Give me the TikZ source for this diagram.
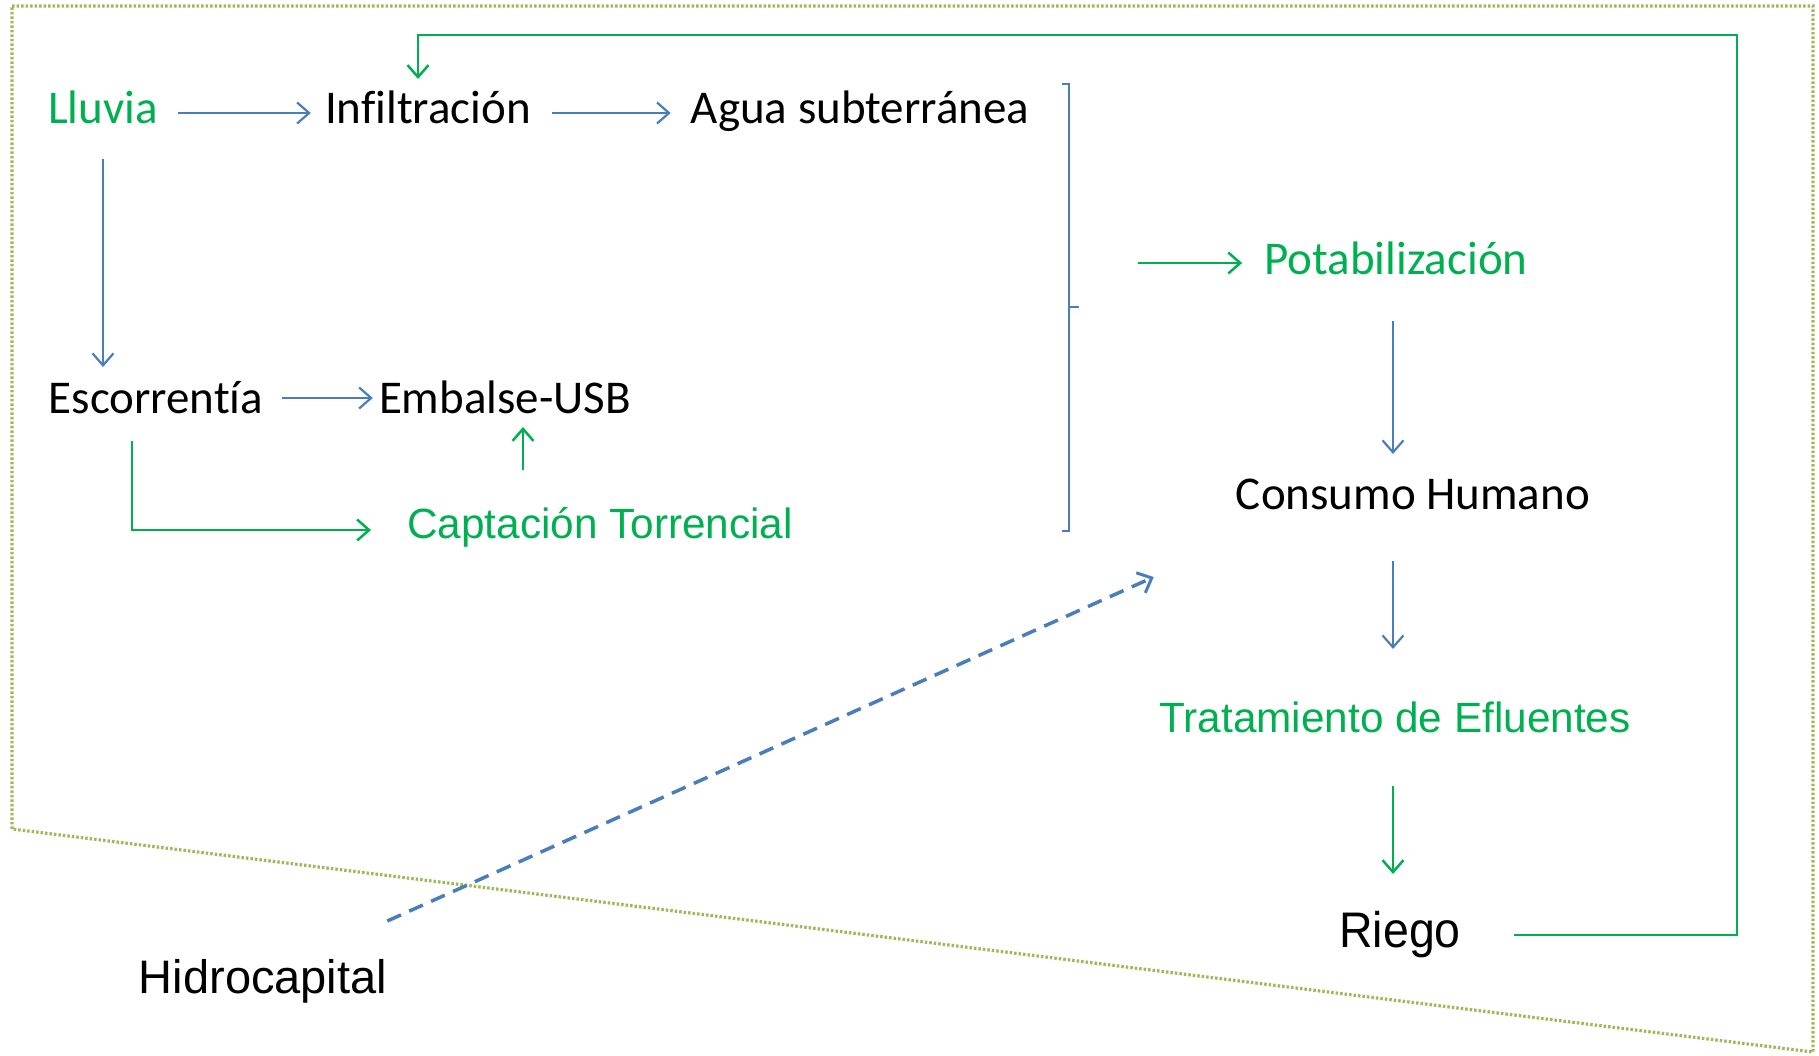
\documentclass[tikz,border=0pt]{standalone}
\usepackage{fontspec}
\setmainfont[Ligatures={NoCommon,NoContextual}]{Carlito}
\newfontfamily\arialf{Liberation Sans}
\newfontfamily\arialn[FakeStretch=0.93]{Liberation Sans}
\usetikzlibrary{arrows.meta,calc}
\definecolor{cgreen}{HTML}{00B050}
\definecolor{cblue}{HTML}{4A7EBB}
\definecolor{colive}{HTML}{9BBB59}
\begin{document}
\begin{tikzpicture}[x=1pt,y=-1pt,
  lbl/.style={anchor=base,inner sep=0pt,font=\fontsize{47}{56}\selectfont},
  arl/.style={anchor=base,inner sep=0pt,font=\arialf\fontsize{42.3}{50}\selectfont},
  barrow/.style={draw=cblue,line width=2.2pt,-{Straight Barb[length=12pt,width=21pt,line width=2.2pt]}},
  garrow/.style={draw=cgreen,line width=2.5pt,-{Straight Barb[length=12pt,width=21pt,line width=2.5pt]}},
  dasharrow/.style={draw=cblue,line width=3.5pt,dash pattern=on 15pt off 9pt,-{Straight Barb[length=12pt,width=22pt,line width=3pt]}},
  border/.style={draw=colive,line width=3.2pt,dash pattern=on 2.5pt off 2pt},
]
\useasboundingbox (0,0) rectangle (1819,1055);

% outer dotted border
\draw[border] (12,6) -- (1813,6) -- (1813,1052) -- (12,829) -- cycle;

% nodes
\node[lbl,text=cgreen] (lluvia) at (103,123) {Lluvia};
\node[lbl] (infil) at (428,123) {Inf\kern0pt iltración};
\node[lbl] (agua) at (860,123) {Agua subterránea};
\node[lbl] (escor) at (156,413) {Escorrent\kern0pt ía};
\node[lbl] (embalse) at (505,413) {Embalse-USB};
\node[arl,text=cgreen] (capt) at (600,538) {Captación Torrencial};
\node[lbl,text=cgreen] (potab) at (1396,274) {Potabilización};
\node[lbl] (consumo) at (1413,509) {Consumo Humano};
\node[arl,text=cgreen] (trat) at (1395,732) {Tratamiento de Efluentes};
\node[anchor=base,inner sep=0pt,font=\arialn\fontsize{50}{60}\selectfont] (riego) at (1400,947) {Riego};
\node[anchor=base,inner sep=0pt,font=\arialf\fontsize{47}{56}\selectfont] (hidro) at (263,993) {Hidrocapital};

% bracket
\coordinate (brtop) at (1069,84);
\coordinate (brbot) at (1069,531);
\coordinate (brmid) at (1069,307);
\draw[cblue,line width=2.2pt] ($(brtop)+(-7,0)$) -- (brtop) -- (brbot) -- ($(brbot)+(-7,0)$);
\draw[cblue,line width=2.2pt] (brmid) -- ($(brmid)+(10,0)$);

% coordinates for free ends
\coordinate (pstart) at (1138,263);
\coordinate (loopr) at (1737,35);

% connectors
\draw[barrow] ($(lluvia.base east)+(20,-10)$) -- ($(infil.base west)+(-14,-10)$);
\draw[barrow] ($(infil.base east)+(21,-10)$) -- ($(agua.base west)+(-20,-10)$);
\draw[barrow] ($(lluvia.base)+(0,36)$) -- ($(lluvia.base |- escor.base)+(0,-46)$);
\draw[barrow] ($(escor.base east)+(19,-15)$) -- ($(embalse.base west)+(-6,-15)$);
\draw[garrow] ($(capt.base)+(-77,-68)$) -- ($(embalse.base)+(18,14)$);
\draw[garrow] ($(escor.base)+(-24,28)$) |- ($(capt.base west)+(-36,-8)$);
\draw[garrow] (pstart) -- ($(potab.base west)+(-22,-11)$);
\draw[barrow] ($(potab.base)+(-3,47)$) -- ($(consumo.base)+(-20,-55)$);
\draw[barrow] ($(consumo.base)+(-20,52)$) -- ($(trat.base)+(-2,-83)$);
\draw[garrow] ($(trat.base)+(-2,54)$) -- ($(riego.base)+(-7,-73)$);
\draw[garrow] ($(riego.base east)+(53,-12)$) -| (loopr) -| ($(infil.base)+(-10,-44)$);
\draw[dasharrow] ($(hidro.base east)+(0,-72)$) -- ($(consumo.base west)+(-82,68)$);
\end{tikzpicture}
\end{document}
